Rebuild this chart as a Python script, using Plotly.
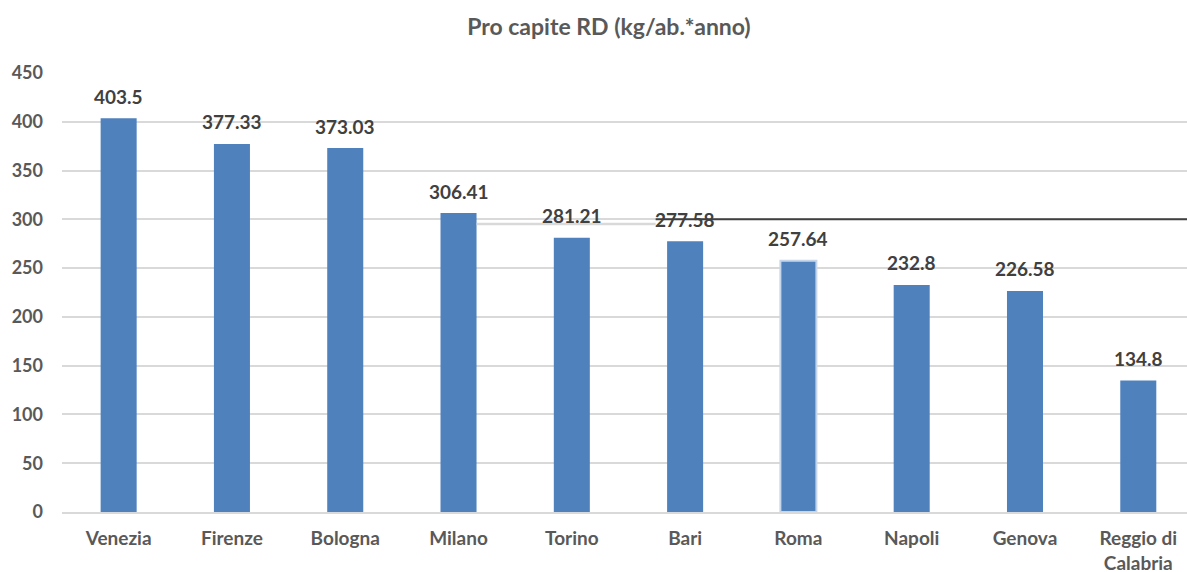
import plotly.graph_objects as go

categories = ["Venezia", "Firenze", "Bologna", "Milano", "Torino", "Bari", "Roma",
              "Napoli", "Genova", "Reggio di<br>Calabria"]
values = [403.5, 377.33, 373.03, 306.41, 281.21, 277.58, 257.64, 232.8, 226.58, 134.8]
labels = ["403.5", "377.33", "373.03", "306.41", "281.21", "277.58", "257.64",
          "232.8", "226.58", "134.8"]
y_ticks = [0, 50, 100, 150, 200, 250, 300, 350, 400, 450]
threshold = 300

FONT = "Lato"
BAR = "#4F81BD"
GRID = "#D9D9D9"
TXT = "#595959"

xpos = list(range(len(categories)))
line_colors = ["#C6D6EA" if c == "Roma" else BAR for c in categories]
line_widths = [2 if c == "Roma" else 0 for c in categories]

fig = go.Figure()
fig.add_trace(go.Bar(
    x=xpos, y=values, width=0.318,
    marker=dict(color=BAR, line=dict(color=line_colors, width=line_widths)),
    hoverinfo="skip",
))

for xi, v, lab in zip(xpos, values, labels):
    fig.add_annotation(x=xi, y=v, text=f"<b>{lab}</b>", showarrow=False,
                       yanchor="middle", yshift=22,
                       font=dict(family=FONT, size=19, color="#404040"))

# white cover + grey line segment + black threshold line
fig.add_shape(type="line", xref="x", yref="y", x0=3.16, x1=4.74, y0=threshold, y1=threshold,
              line=dict(color="white", width=3), layer="below")
fig.add_shape(type="line", xref="x", yref="y", x0=3.16, x1=4.74, y0=295.2, y1=295.2,
              line=dict(color=GRID, width=2.5), layer="above")
fig.add_shape(type="line", xref="x", yref="y", x0=4.74, x1=9.43, y0=threshold, y1=threshold,
              line=dict(color="#404040", width=2), layer="above")

fig.update_layout(
    width=1187, height=572,
    margin=dict(l=62, r=0, t=73, b=60, autoexpand=False),
    plot_bgcolor="white", paper_bgcolor="white",
    showlegend=False,
    title=dict(text="<b>Pro capite RD (kg/ab.*anno)</b>", x=0.513, xanchor="center",
               y=0.953, yanchor="middle",
               font=dict(family=FONT, size=23, color=TXT)),
    xaxis=dict(range=[-0.5, 9.43], tickmode="array", tickvals=xpos,
               ticktext=[f"<b>{c}</b>" for c in categories],
               tickfont=dict(family=FONT, size=19, color=TXT),
               showgrid=False, zeroline=False, showline=True, linecolor=GRID, linewidth=2,
               ticks="", ticklabelstandoff=8, automargin=False),
    yaxis=dict(range=[0, 450], tickmode="array", tickvals=y_ticks,
               ticktext=[f"<b>{t}</b>" for t in y_ticks],
               tickfont=dict(family=FONT, size=18, color=TXT),
               showgrid=True, gridcolor=GRID, gridwidth=1.5, zeroline=False,
               showline=False, ticks="", ticklabelstandoff=18, automargin=False),
)

fig.write_html("out.html", config={"displayModeBar": False},
               post_script="document.body.style.margin='0';document.body.style.overflow='hidden';")
